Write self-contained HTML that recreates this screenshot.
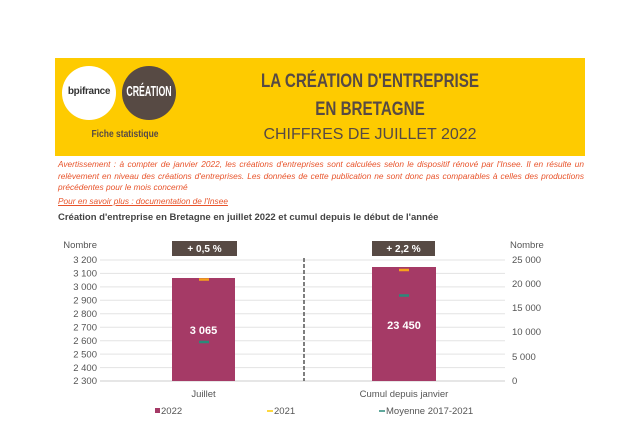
<!DOCTYPE html>
<html><head><meta charset="utf-8"><style>
body{margin:0;width:640px;height:430px;background:#fff;font-family:"Liberation Sans",sans-serif;position:relative;overflow:hidden}
.a{position:absolute}
</style></head><body>
<div class="a" style="left:55px;top:58px;width:530px;height:98px;background:#fecb00"></div>
<div class="a" style="left:62px;top:66px;width:54px;height:54px;border-radius:50%;background:#fff"></div>
<div class="a" style="left:62px;top:86px;width:54px;text-align:center;font-size:10px;font-weight:bold;color:#333;letter-spacing:-0.3px">bpifrance</div>
<div class="a" style="left:122px;top:66px;width:54px;height:54px;border-radius:50%;background:#574a44"></div>
<div class="a" style="left:118px;top:86px;width:62px;text-align:center;font-size:11px;font-weight:bold;color:#fff;transform:scale(0.8,1.3)">CRÉATION</div>
<div class="a" style="left:75px;top:129px;width:100px;text-align:center;font-size:10px;font-weight:bold;color:#574a44;transform:scaleX(0.85)">Fiche statistique</div>
<div class="a" style="left:200px;top:68px;width:340px;text-align:center;font-size:19px;font-weight:bold;color:#574a44;line-height:28px;transform:scaleX(0.8)">LA CRÉATION D'ENTREPRISE<br>EN BRETAGNE</div>
<div class="a" style="left:200px;top:126px;width:340px;text-align:center;font-size:16px;color:#574a44">CHIFFRES DE JUILLET 2022</div>
<div class="a" style="left:58px;top:159px;width:526px;font-size:8.3px;font-style:italic;color:#e8532a;line-height:11.5px;text-align:justify">Avertissement : à compter de janvier 2022, les créations d'entreprises sont calculées selon le dispositif rénové par l'Insee. Il en résulte un relèvement en niveau des créations d'entreprises. Les données de cette publication ne sont donc pas comparables à celles des productions précédentes pour le mois concerné</div>
<div class="a" style="left:58px;top:196px;font-size:8.3px;font-style:italic;color:#e8532a;text-decoration:underline">Pour en savoir plus : documentation de l'Insee</div>
<div class="a" style="left:58px;top:212px;font-size:9.5px;font-weight:bold;color:#444">Création d'entreprise en Bretagne en juillet 2022 et cumul depuis le début de l'année</div>
<svg class="a" style="left:0;top:0" width="640" height="430" font-family="Liberation Sans" font-size="9.5" fill="#555">
<g stroke="#e3e3e3" stroke-width="1">
<line x1="100" x2="505" y1="260" y2="260"/><line x1="100" x2="505" y1="273.4" y2="273.4"/><line x1="100" x2="505" y1="286.9" y2="286.9"/><line x1="100" x2="505" y1="300.3" y2="300.3"/><line x1="100" x2="505" y1="313.8" y2="313.8"/><line x1="100" x2="505" y1="327.2" y2="327.2"/><line x1="100" x2="505" y1="340.7" y2="340.7"/><line x1="100" x2="505" y1="354.1" y2="354.1"/><line x1="100" x2="505" y1="367.6" y2="367.6"/></g>
<line x1="100" x2="505" y1="381" y2="381" stroke="#ccc"/>
<g text-anchor="end"><text x="97" y="248">Nombre</text>
<text x="97" y="263">3 200</text><text x="97" y="276.5">3 100</text><text x="97" y="290">3 000</text><text x="97" y="303.5">2 900</text><text x="97" y="317">2 800</text><text x="97" y="330.5">2 700</text><text x="97" y="344">2 600</text><text x="97" y="357.5">2 500</text><text x="97" y="371">2 400</text><text x="97" y="384">2 300</text></g>
<text x="510" y="248">Nombre</text>
<text x="512" y="263">25 000</text><text x="512" y="287">20 000</text><text x="512" y="311">15 000</text><text x="512" y="335">10 000</text><text x="512" y="360">5 000</text><text x="512" y="384">0</text>
<rect x="172" y="278" width="63" height="103" fill="#a53a66"/>
<rect x="372" y="267" width="64" height="114" fill="#a53a66"/>
<line x1="304" x2="304" y1="258" y2="381" stroke="#555" stroke-width="1.5" stroke-dasharray="4,2"/>
<rect x="172" y="241" width="65" height="15" fill="#574a44"/><text x="204.5" y="252" text-anchor="middle" fill="#fff" font-weight="bold" font-size="10">+ 0,5 %</text>
<rect x="372" y="241" width="63" height="15" fill="#574a44"/><text x="403.5" y="252" text-anchor="middle" fill="#fff" font-weight="bold" font-size="10">+ 2,2 %</text>
<g stroke-width="2.5"><line x1="199" x2="209" y1="279.5" y2="279.5" stroke="#f7a21b"/><line x1="399" x2="409" y1="270" y2="270" stroke="#f7a21b"/>
<line x1="199" x2="209" y1="342" y2="342" stroke="#2a8a7a"/><line x1="399" x2="409" y1="295.5" y2="295.5" stroke="#2a8a7a"/></g>
<text x="203.5" y="334" text-anchor="middle" fill="#fff" font-weight="bold" font-size="11">3 065</text>
<text x="404" y="329" text-anchor="middle" fill="#fff" font-weight="bold" font-size="11">23 450</text>
<text x="203.5" y="397" text-anchor="middle">Juillet</text>
<text x="404" y="397" text-anchor="middle">Cumul depuis janvier</text>
<rect x="155" y="408" width="5" height="5" fill="#a53a66"/><text x="161" y="414">2022</text>
<line x1="267" x2="273" y1="411" y2="411" stroke="#fecb00" stroke-width="1.5"/><text x="274" y="414">2021</text>
<line x1="379" x2="385" y1="411" y2="411" stroke="#2a8a7a" stroke-width="1.5"/><text x="386" y="414">Moyenne 2017-2021</text>
</svg>
</body></html>
